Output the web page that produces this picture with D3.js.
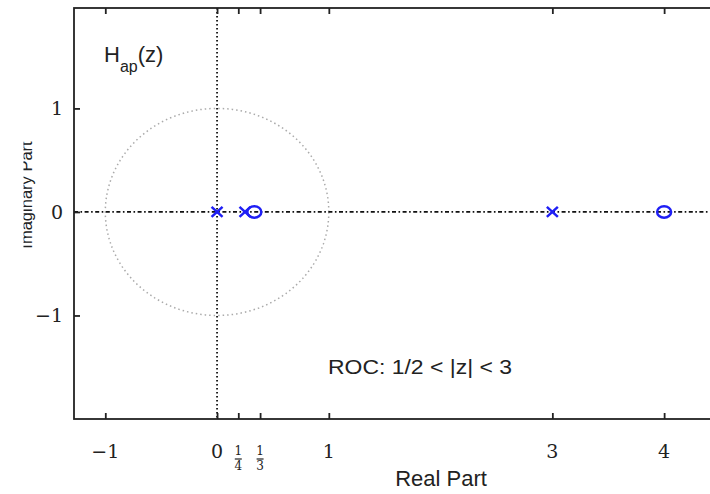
<!DOCTYPE html>
<html lang="en">
<head>
<meta charset="UTF-8">
<title>Pole-zero plot of H_ap(z)</title>
<script src="https://d3js.org/d3.v7.min.js"></script>
<style>
    body { margin: 0; background: #fff; }
    svg { display: block; }
    .tick-label { font-family: "DejaVu Serif", serif; fill: #222; }
    .sans { font-family: "Liberation Sans", Arial, sans-serif; fill: #222; }
</style>
</head>
<body>
<svg width="710" height="494"></svg>
<script>
    // data
    const poles = [0, 1/4, 3];
    const zeros = [1/3, 4];
    const xTickValues = [-1, 0, 0.19, 0.385, 1, 3, 4];
    const xTickLabels = ["\u22121", "0", "1/4", "1/3", "1", "3", "4"];
    const yTickValues = [-1, 0, 1];
    const yTickLabels = ["\u22121", "0", "1"];
    const rocText = "ROC: 1/2 < |z| < 3";

    const svg = d3.select("svg");

    // plot area (right edge runs past the window, like the reference)
    const x = d3.scaleLinear().domain([-1.28, 4.5]).range([74, 720]);
    const y = d3.scaleLinear().domain([-2, 1.97]).range([419, 8]);

    // unit circle
    const circ = d3.range(0, 361, 2).map(a => [Math.cos(a * Math.PI / 180), Math.sin(a * Math.PI / 180)]);
    svg.append("path")
        .datum(circ)
        .attr("d", d3.line().x(d => x(d[0])).y(d => y(d[1])))
        .attr("fill", "none")
        .attr("stroke", "#aaa")
        .attr("stroke-width", 1.5)
        .attr("stroke-dasharray", "1.5,3");

    // zero axes
    svg.append("line")
        .attr("x1", x(0)).attr("x2", x(0))
        .attr("y1", y(1.97)).attr("y2", y(-2))
        .attr("stroke", "#111").attr("stroke-width", 1.8)
        .attr("stroke-dasharray", "1.6,2.4");
    svg.append("line")
        .attr("x1", x(-1.28)).attr("x2", x(4.5))
        .attr("y1", y(0)).attr("y2", y(0))
        .attr("stroke", "#111").attr("stroke-width", 1.8)
        .attr("stroke-dasharray", "4,2.5,1.6,2.5");

    // axes ticks (inward, mirrored)
    const axisStyle = g => {
        g.select(".domain").remove();
        g.selectAll(".tick line").attr("stroke", "#222").attr("stroke-width", 1.8);
        g.selectAll(".tick text").remove();
    };
    svg.append("g").attr("transform", `translate(0,${y(-2)})`)
        .call(d3.axisBottom(x).tickValues(xTickValues).tickSizeInner(-6).tickSizeOuter(0))
        .call(axisStyle);
    svg.append("g").attr("transform", `translate(0,${y(1.97)})`)
        .call(d3.axisTop(x).tickValues(xTickValues).tickSizeInner(-6).tickSizeOuter(0))
        .call(axisStyle);
    svg.append("g").attr("transform", `translate(${x(-1.28)},0)`)
        .call(d3.axisLeft(y).tickValues(yTickValues).tickSizeInner(-6).tickSizeOuter(0))
        .call(axisStyle);

    // frame
    svg.append("rect")
        .attr("x", x(-1.28)).attr("y", y(1.97))
        .attr("width", x(4.5) - x(-1.28)).attr("height", y(-2) - y(1.97))
        .attr("fill", "none").attr("stroke", "#222").attr("stroke-width", 1.8);

    // x tick labels
    xTickValues.forEach((v, i) => {
        const lab = xTickLabels[i];
        if (lab.includes("/")) {
            const [num, den] = lab.split("/");
            const g = svg.append("g").attr("transform", `translate(${x(v)},0)`);
            g.append("text").attr("class", "tick-label").attr("y", 455)
                .attr("text-anchor", "middle").attr("font-size", 12).text(num);
            g.append("line").attr("x1", -3.5).attr("x2", 3.5).attr("y1", 459).attr("y2", 459)
                .attr("stroke", "#222").attr("stroke-width", 1.2);
            g.append("text").attr("class", "tick-label").attr("y", 470)
                .attr("text-anchor", "middle").attr("font-size", 12).text(den);
        } else {
            svg.append("text").attr("class", "tick-label")
                .attr("x", x(v)).attr("y", 458)
                .attr("text-anchor", "middle").attr("font-size", 19).text(lab);
        }
    });

    // y tick labels
    yTickValues.forEach((v, i) => {
        svg.append("text").attr("class", "tick-label")
            .attr("x", 63).attr("y", y(v) + 7)
            .attr("text-anchor", "end").attr("font-size", 19).text(yTickLabels[i]);
    });

    // poles (x) and zeros (o)
    const blue = "#1f1ff5";
    svg.selectAll(".pole").data(poles).enter().append("path")
        .attr("class", "pole")
        .attr("transform", d => `translate(${x(d)},${y(0)})`)
        .attr("d", "M-5.5,-5L5.5,5M-5.5,5L5.5,-5")
        .attr("stroke", blue).attr("stroke-width", 2.5).attr("fill", "none");
    svg.selectAll(".zero").data(zeros).enter().append("ellipse")
        .attr("class", "zero")
        .attr("cx", d => x(d)).attr("cy", y(0))
        .attr("rx", 7).attr("ry", 5.8)
        .attr("stroke", blue).attr("stroke-width", 2.5).attr("fill", "none");

    // title
    const title = svg.append("text").attr("class", "sans").attr("x", 104).attr("y", 62).attr("font-size", 22);
    title.append("tspan").text("H");
    title.append("tspan").attr("font-size", 16).attr("dy", 10).text("ap");
    title.append("tspan").attr("dy", -10).text("(z)");

    // ROC note
    svg.append("text").attr("class", "sans")
        .attr("x", 328).attr("y", 374).attr("font-size", 20)
        .attr("textLength", 184).attr("lengthAdjust", "spacingAndGlyphs")
        .text(rocText);

    // axis labels
    svg.append("text").attr("class", "sans")
        .attr("x", 441).attr("y", 486).attr("text-anchor", "middle")
        .attr("font-size", 22).text("Real Part");

    // y label, cut off on the left like in the reference
    svg.append("clipPath").attr("id", "ylab-clip")
        .append("rect").attr("x", 23.5).attr("y", 0).attr("width", 40).attr("height", 494);
    svg.append("g").attr("clip-path", "url(#ylab-clip)")
        .append("text").attr("class", "sans")
        .attr("transform", "translate(32,195) rotate(-90)")
        .attr("text-anchor", "middle").attr("font-size", 16.5)
        .text("Imaginary Part");
</script>
</body>
</html>
